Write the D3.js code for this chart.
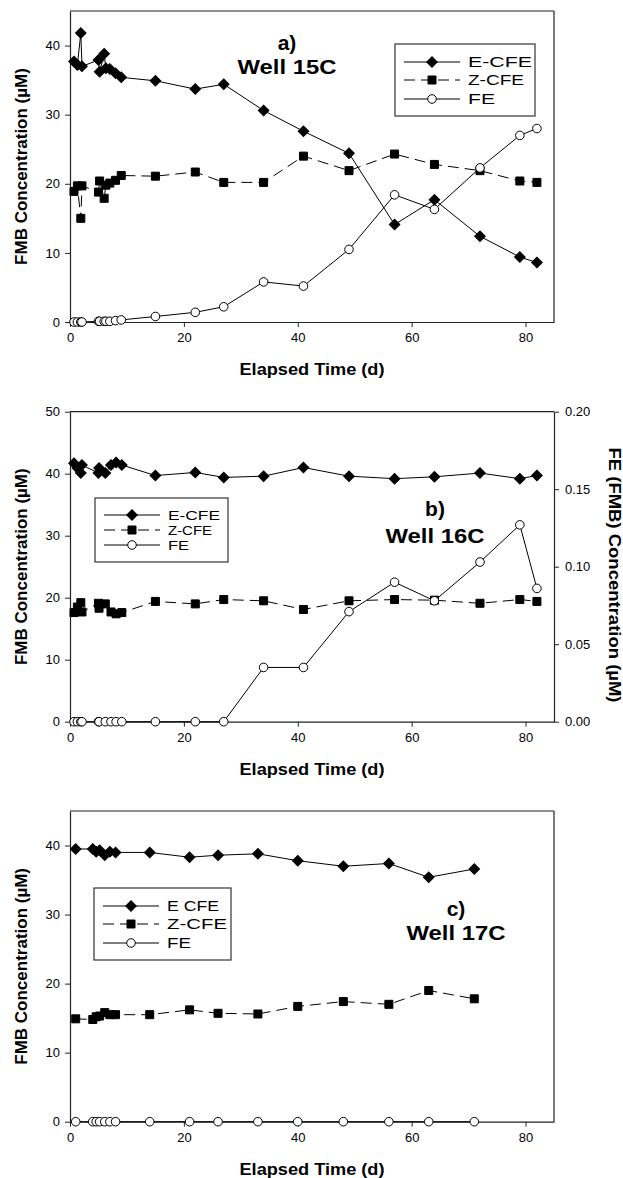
<!DOCTYPE html>
<html>
<head>
<meta charset="utf-8">
<script src="https://cdn.jsdelivr.net/npm/d3@7"></script>
<style>
  body { margin: 0; background: #fff; }
  svg { display: block; }
  text { font-family: "Liberation Sans", Arial, sans-serif; fill: #000; }
</style>
</head>
<body>
<svg id="chart" width="623" height="1178"></svg>
<script>
// ---- data (days elapsed, concentrations in uM) ----
const xTicks = [0, 20, 40, 60, 80];

// a) Well 15C
const daysA = [0.7, 1.3, 1.9, 2.1, 5, 5.2, 6, 6.3, 7, 8, 9, 15, 22, 27, 34, 41, 49, 57, 64, 72, 79, 82];
const eCfeA = [37.7, 37.2, 41.8, 37.0, 37.9, 36.2, 38.8, 36.7, 36.6, 36.0, 35.4, 34.9, 33.7, 34.4, 30.6, 27.6, 24.4, 14.1, 17.7, 12.4, 9.4, 8.6];
const zCfeA = [18.9, 19.7, 15.0, 19.7, 18.8, 20.4, 17.9, 19.8, 20.1, 20.5, 21.2, 21.1, 21.7, 20.2, 20.2, 24.0, 21.9, 24.3, 22.8, 21.9, 20.4, 20.2];
const feA   = [0, 0, 0, 0, 0.1, 0.1, 0.1, 0.1, 0.1, 0.2, 0.3, 0.8, 1.4, 2.2, 5.8, 5.2, 10.5, 18.4, 16.3, 22.3, 27.0, 28.0];

// b) Well 16C (FE on the right axis)
const daysB = [0.7, 1.3, 1.9, 2.1, 5, 5.1, 6.2, 7.2, 8.1, 9.1, 15, 22, 27, 34, 41, 49, 57, 64, 72, 79, 82];
const eCfeB = [41.7, 40.9, 40.1, 41.4, 40.1, 40.9, 40.1, 41.4, 41.8, 41.4, 39.7, 40.2, 39.4, 39.6, 41.0, 39.6, 39.2, 39.5, 40.1, 39.2, 39.7];
const zCfeB = [17.6, 18.5, 19.2, 17.7, 19.1, 18.3, 19.0, 17.7, 17.4, 17.6, 19.4, 19.0, 19.7, 19.5, 18.1, 19.5, 19.7, 19.6, 19.1, 19.7, 19.4];
const feB   = [0, 0, 0, 0, 0, 0, 0, 0, 0, 0, 0, 0, 0, 0.035, 0.035, 0.071, 0.090, 0.078, 0.103, 0.127, 0.086];

// c) Well 17C
const daysC = [1, 4, 4.6, 5.2, 6.1, 7, 8, 14, 21, 26, 33, 40, 48, 56, 63, 71];
const eCfeC = [39.5, 39.5, 39.1, 39.3, 38.6, 39.1, 39.0, 39.0, 38.3, 38.6, 38.8, 37.8, 37.0, 37.4, 35.4, 36.6];
const zCfeC = [14.9, 14.8, 15.2, 15.3, 15.8, 15.5, 15.5, 15.5, 16.2, 15.7, 15.6, 16.7, 17.4, 17.0, 19.0, 17.8];
const feC   = [0, 0, 0, 0, 0, 0, 0, 0, 0, 0, 0, 0, 0, 0, 0, 0];

const yTicks45 = [0, 10, 20, 30, 40];
const yTicks50 = [0, 10, 20, 30, 40, 50];
const rightTicks = [0, 0.05, 0.10, 0.15, 0.20];

// ---- layout ----
const svg = d3.select("#chart");
const LEFT = 70, RIGHT = 554;
const x = d3.scaleLinear().domain([0, 85]).range([LEFT, RIGHT]);

const sym = {
  diamond: { type: d3.symbolSquare, size: 56, rotate: 45, fill: "#000" },
  square:  { type: d3.symbolSquare, size: 64, rotate: 0, fill: "#000" },
  circle:  { type: d3.symbolCircle, size: 58, rotate: 0, fill: "#fff" },
};
const DASH = "11,6";

const panels = [
  {
    top: 11, bottom: 322, yMax: 45, yTicks: yTicks45, days: daysA,
    series: [
      { name: "E-CFE", values: eCfeA, marker: "diamond", dash: null },
      { name: "Z-CFE", values: zCfeA, marker: "square", dash: DASH },
      { name: "FE", values: feA, marker: "circle", dash: null },
    ],
    label: { x: 287, y1: 50, y2: 74, l1: "a)", l2: "Well 15C" },
    legend: { x0: 395, x1: 535, y0: 44, y1: 116, rows: [62, 80, 99], fs: 15, widths: [64, 56, 27] },
  },
  {
    top: 411.7, bottom: 721.7, yMax: 50, yTicks: yTicks50, days: daysB,
    right: { max: 0.2, ticks: rightTicks, title: "FE (FMB) Concentration (\u00b5M)" },
    series: [
      { name: "E-CFE", values: eCfeB, marker: "diamond", dash: null },
      { name: "Z-CFE", values: zCfeB, marker: "square", dash: DASH },
      { name: "FE", values: feB, marker: "circle", dash: null, onRight: true },
    ],
    label: { x: 435, y1: 516, y2: 543, l1: "b)", l2: "Well 16C" },
    legend: { x0: 95, x1: 228, y0: 498, y1: 562, rows: [515, 530, 545], fs: 13, widths: [52, 44, 21] },
  },
  {
    top: 811, bottom: 1121.7, yMax: 45, yTicks: yTicks45, days: daysC,
    series: [
      { name: "E CFE", values: eCfeC, marker: "diamond", dash: null },
      { name: "Z-CFE", values: zCfeC, marker: "square", dash: DASH },
      { name: "FE", values: feC, marker: "circle", dash: null },
    ],
    label: { x: 456, y1: 916, y2: 940, l1: "c)", l2: "Well 17C" },
    legend: { x0: 94, x1: 231, y0: 888, y1: 960, rows: [906, 924, 943], fs: 15, widths: [52, 60, 24] },
  },
];

function drawMarker(g, kind, cx, cy) {
  const s = sym[kind];
  g.append("path")
    .attr("d", d3.symbol(s.type, s.size)())
    .attr("transform", `translate(${cx},${cy}) rotate(${s.rotate})`)
    .attr("fill", s.fill)
    .attr("stroke", "#000")
    .attr("stroke-width", 1);
}

function drawPanel(p) {
  const g = svg.append("g");
  const y = d3.scaleLinear().domain([0, p.yMax]).range([p.bottom, p.top]);
  const yR = p.right ? d3.scaleLinear().domain([0, p.right.max]).range([p.bottom, p.top]) : null;

  // frame (top + right)
  g.append("line").attr("x1", LEFT).attr("x2", RIGHT).attr("y1", p.top).attr("y2", p.top)
    .attr("stroke", "#222").attr("stroke-width", 1.2);
  if (!p.right) {
    g.append("line").attr("x1", RIGHT).attr("x2", RIGHT).attr("y1", p.top).attr("y2", p.bottom)
      .attr("stroke", "#222").attr("stroke-width", 1.2);
  }

  // axes
  const xAxis = g.append("g").attr("transform", `translate(0,${p.bottom})`)
    .call(d3.axisBottom(x).tickValues(xTicks).tickSize(5).tickSizeOuter(0).tickPadding(6));
  const yAxis = g.append("g").attr("transform", `translate(${LEFT},0)`)
    .call(d3.axisLeft(y).tickValues(p.yTicks).tickSize(5).tickSizeOuter(0).tickPadding(5));
  const axes = [xAxis, yAxis];
  if (p.right) {
    axes.push(g.append("g").attr("transform", `translate(${RIGHT},0)`)
      .call(d3.axisRight(yR).tickValues(p.right.ticks).tickFormat(d3.format(".2f"))
        .tickSize(5).tickSizeOuter(0).tickPadding(6)));
    g.append("text")
      .attr("transform", `translate(609,575) rotate(90)`)
      .attr("text-anchor", "middle")
      .attr("font-size", 16).attr("font-weight", "bold")
      .attr("textLength", 255).attr("lengthAdjust", "spacingAndGlyphs")
      .text(p.right.title);
  }
  axes.forEach(a => {
    a.selectAll(".domain").attr("stroke", "#222").attr("stroke-width", 1.2);
    a.selectAll(".tick line").attr("stroke", "#222");
    a.selectAll(".tick text").attr("font-size", 13).attr("font-family", "Liberation Sans, Arial, sans-serif");
  });

  // axis titles
  g.append("text")
    .attr("x", (LEFT + RIGHT) / 2).attr("y", p.bottom + 53)
    .attr("text-anchor", "middle")
    .attr("font-size", 17).attr("font-weight", "bold")
    .attr("textLength", 145).attr("lengthAdjust", "spacingAndGlyphs")
    .text("Elapsed Time (d)");
  g.append("text")
    .attr("transform", `translate(27,${(p.top + p.bottom) / 2}) rotate(-90)`)
    .attr("text-anchor", "middle")
    .attr("font-size", 17).attr("font-weight", "bold")
    .text("FMB Concentration (\u00b5M)");

  // series
  p.series.forEach(s => {
    const sy = s.onRight ? yR : y;
    const pts = p.days.map((d, i) => [d, s.values[i]]).filter(d => d[1] != null);
    g.append("path")
      .datum(pts)
      .attr("fill", "none")
      .attr("stroke", "#000")
      .attr("stroke-width", 1)
      .attr("stroke-dasharray", s.dash)
      .attr("d", d3.line().x(d => x(d[0])).y(d => sy(d[1])));
    const mg = g.append("g");
    pts.forEach(d => drawMarker(mg, s.marker, x(d[0]), sy(d[1])));
  });

  // panel label
  g.append("text").attr("x", p.label.x).attr("y", p.label.y1)
    .attr("text-anchor", "middle").attr("font-size", 21).attr("font-weight", "bold")
    .text(p.label.l1);
  g.append("text").attr("x", p.label.x).attr("y", p.label.y2)
    .attr("text-anchor", "middle").attr("font-size", 21).attr("font-weight", "bold")
    .attr("textLength", 99).attr("lengthAdjust", "spacingAndGlyphs")
    .text(p.label.l2);

  // legend
  const L = p.legend;
  const lg = g.append("g");
  lg.append("rect")
    .attr("x", L.x0).attr("y", L.y0)
    .attr("width", L.x1 - L.x0).attr("height", L.y1 - L.y0)
    .attr("fill", "#fff").attr("stroke", "#333").attr("stroke-width", 1.2);
  p.series.forEach((s, i) => {
    const ry = L.rows[i];
    lg.append("line")
      .attr("x1", L.x0 + 9).attr("x2", L.x0 + 65).attr("y1", ry).attr("y2", ry)
      .attr("stroke", "#000").attr("stroke-width", 1)
      .attr("stroke-dasharray", s.dash);
    drawMarker(lg, s.marker, L.x0 + 37, ry);
    lg.append("text")
      .attr("x", L.x0 + 73).attr("y", ry)
      .attr("dy", "0.36em")
      .attr("font-size", L.fs)
      .attr("textLength", L.widths[i]).attr("lengthAdjust", "spacingAndGlyphs")
      .text(s.name);
  });
}

panels.forEach(drawPanel);
</script>
</body>
</html>
